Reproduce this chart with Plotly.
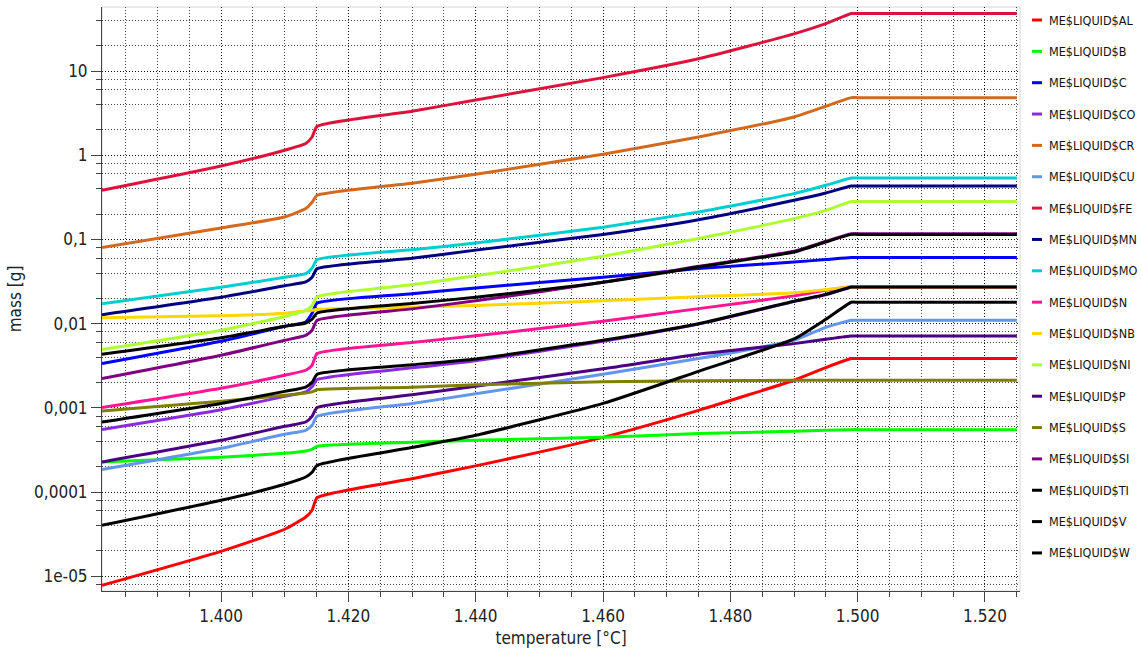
import plotly.graph_objects as go

# ---------------- data ----------------
temperature = [1381.3, 1400, 1410, 1413.3, 1414.3, 1415.1, 1430, 1440, 1460, 1475, 1490, 1495, 1499, 1500, 1525]

species = ["ME$LIQUID$AL", "ME$LIQUID$B", "ME$LIQUID$C", "ME$LIQUID$CO", "ME$LIQUID$CR",
           "ME$LIQUID$CU", "ME$LIQUID$FE", "ME$LIQUID$MN", "ME$LIQUID$MO", "ME$LIQUID$N",
           "ME$LIQUID$NB", "ME$LIQUID$NI", "ME$LIQUID$P", "ME$LIQUID$S", "ME$LIQUID$SI",
           "ME$LIQUID$TI", "ME$LIQUID$V", "ME$LIQUID$W"]

colors = ["#FF0000", "#00FF00", "#0000FF", "#8A2BE2", "#D2691E",
          "#6495ED", "#DC143C", "#000080", "#00CED1", "#FF1493",
          "#FFD700", "#ADFF2F", "#4B0082", "#808000", "#800080",
          "#000000", "#000000", "#000000"]

AL = [7.82e-6, 1.98e-5, 3.62e-5, 5.06e-5, 6.08e-5, 8.60e-5, 1.44e-4, 2.05e-4, 4.47e-4, 9.36e-4, 2.13e-3, 3.01e-3, 3.85e-3, 3.85e-3, 3.85e-3]
B = [0.000228, 0.000259, 0.000289, 0.000308, 0.000322, 0.000350, 0.000390, 0.000412, 0.000447, 0.000495, 0.000527, 0.000542, 0.000552, 0.000552, 0.000552]
C = [0.00336, 0.00618, 0.00931, 0.0105, 0.0133, 0.0176, 0.0227, 0.0266, 0.0356, 0.0451, 0.0540, 0.0577, 0.0610, 0.0610, 0.0610]
CO = [0.000552, 0.000949, 0.00137, 0.00155, 0.00178, 0.00217, 0.00299, 0.00363, 0.00618, 0.00989, 0.0183, 0.0221, 0.0271, 0.0271, 0.0271]
CR = [0.0801, 0.137, 0.185, 0.233, 0.277, 0.335, 0.466, 0.595, 1.03, 1.65, 2.85, 3.82, 4.84, 4.84, 4.84]
CU = [0.000185, 0.000331, 0.000486, 0.000542, 0.000621, 0.000794, 0.00113, 0.00147, 0.00251, 0.00385, 0.00635, 0.00906, 0.0110, 0.0110, 0.0110]
FE = [0.384, 0.746, 1.15, 1.38, 1.65, 2.21, 3.33, 4.54, 8.37, 14.0, 27.7, 36.6, 48.2, 48.2, 48.2]
MN = [0.0128, 0.0206, 0.0282, 0.0313, 0.0356, 0.0451, 0.0598, 0.0748, 0.115, 0.172, 0.292, 0.357, 0.432, 0.432, 0.432]
MO = [0.0173, 0.0271, 0.0356, 0.0394, 0.0455, 0.0577, 0.0755, 0.0908, 0.140, 0.212, 0.351, 0.440, 0.537, 0.537, 0.537]
N = [0.00101, 0.00171, 0.00244, 0.00280, 0.00321, 0.00442, 0.00598, 0.00718, 0.0107, 0.0151, 0.0214, 0.0249, 0.0273, 0.0273, 0.0273]
NB = [0.0118, 0.0124, 0.0133, 0.0142, 0.0144, 0.0148, 0.0157, 0.0165, 0.0187, 0.0209, 0.0233, 0.0254, 0.0273, 0.0273, 0.0273]
NI = [0.00493, 0.00835, 0.0122, 0.0144, 0.0165, 0.0209, 0.0290, 0.0370, 0.0631, 0.103, 0.177, 0.222, 0.282, 0.282, 0.282]
P = [0.000228, 0.000412, 0.000604, 0.000680, 0.000794, 0.00101, 0.00143, 0.00181, 0.00291, 0.00433, 0.00580, 0.00653, 0.00714, 0.00714, 0.00714]
S = [0.000919, 0.00120, 0.00141, 0.00150, 0.00155, 0.00165, 0.00176, 0.00188, 0.00204, 0.00210, 0.00213, 0.00213, 0.00213, 0.00213, 0.00213]
SI = [0.00223, 0.00422, 0.00635, 0.00728, 0.00835, 0.0110, 0.0150, 0.0187, 0.0310, 0.0481, 0.0724, 0.0952, 0.117, 0.117, 0.117]
TI = [0.00433, 0.0068, 0.00931, 0.0102, 0.0113, 0.0134, 0.0174, 0.0206, 0.0310, 0.0471, 0.0710, 0.0934, 0.115, 0.115, 0.115]
V = [0.000680, 0.00113, 0.00157, 0.00177, 0.00201, 0.00251, 0.00325, 0.00381, 0.00635, 0.0100, 0.0185, 0.0223, 0.0273, 0.0273, 0.0273]
W = [0.0000403, 0.0000799, 0.000124, 0.000151, 0.000172, 0.000208, 0.000338, 0.000473, 0.00113, 0.00272, 0.00660, 0.0113, 0.0180, 0.0180, 0.0180]

series = [AL, B, C, CO, CR, CU, FE, MN, MO, N, NB, NI, P, S, SI, TI, V, W]

x_tickvals = [1400, 1420, 1440, 1460, 1480, 1500, 1520]
x_ticktext = ["1.400", "1.420", "1.440", "1.460", "1.480", "1.500", "1.520"]
x_minor = [1385, 1390, 1395, 1405, 1410, 1415, 1425, 1430, 1435, 1445, 1450, 1455,
           1465, 1470, 1475, 1485, 1490, 1495, 1505, 1510, 1515, 1525]
y_tickvals = [1e-5, 1e-4, 1e-3, 1e-2, 1e-1, 1, 10]
y_ticktext = ["1e-05", "0,0001", "0,001", "0,01", "0,1", "1", "10"]
y_minor = [m * 10.0 ** e for e in range(-6, 2) for m in (2, 4, 6, 8)]

# ---------------- figure ----------------
W_PX, H_PX = 1142, 649
L, R, T, BOT = 102, 1020, 7, 591
FONT = "DejaVu Sans Condensed, Liberation Sans, Arial, sans-serif"

fig = go.Figure()
for name, col, vals in zip(species, colors, series):
    fig.add_trace(go.Scatter(x=temperature, y=vals, mode="lines", name=name,
                             line=dict(color=col, width=3, shape="spline", smoothing=0.5),
                             showlegend=False))

grid_dash = "1px,2px"
fig.update_xaxes(
    range=[1381.3, 1525.5], tickmode="array", tickvals=x_tickvals, ticktext=x_ticktext,
    ticks="outside", ticklen=10, tickcolor="#444", tickwidth=1,
    showline=True, linecolor="#444", linewidth=1, zeroline=False,
    showgrid=True, gridcolor="#111", gridwidth=1, griddash=grid_dash,
    minor=dict(tickvals=x_minor, ticks="outside", ticklen=5, tickcolor="#444",
               showgrid=True, gridcolor="#444", gridwidth=1, griddash=grid_dash),
    tickfont=dict(family=FONT, size=17, color="#222"),
    title=dict(text="temperature [°C]", font=dict(family=FONT, size=17, color="#222"), standoff=6),
)
fig.update_yaxes(
    type="log", range=[-5.1746, 1.7613], tickmode="array", tickvals=y_tickvals, ticktext=y_ticktext,
    ticks="outside", ticklen=10, tickcolor="#444", tickwidth=1,
    showline=True, linecolor="#444", linewidth=1, zeroline=False,
    showgrid=True, gridcolor="#111", gridwidth=1, griddash=grid_dash,
    minor=dict(tickvals=y_minor, ticks="outside", ticklen=5, tickcolor="#444",
               showgrid=True, gridcolor="#444", gridwidth=1, griddash=grid_dash),
    tickfont=dict(family=FONT, size=17, color="#222"),
    title=dict(text="mass [g]", font=dict(family=FONT, size=17, color="#222"), standoff=8),
)

# light frame around plot area
shapes = [dict(type="rect", xref="paper", yref="paper", x0=0, x1=1, y0=0, y1=1,
               line=dict(color="#d6d6d6", width=1), layer="below")]
annotations = []

def px_to_paper_x(px):
    return (px - L) / (R - L)

def px_to_paper_y(py):
    return (BOT - py) / (BOT - T)

# manual legend (short line keys like the reference)
for i, (name, col) in enumerate(zip(species, colors)):
    yp = px_to_paper_y(20 + 31.35 * i)
    shapes.append(dict(type="line", xref="paper", yref="paper",
                       x0=px_to_paper_x(1032), x1=px_to_paper_x(1042), y0=yp, y1=yp,
                       line=dict(color=col, width=3)))
    annotations.append(dict(text=name, xref="paper", yref="paper", x=px_to_paper_x(1047), y=yp,
                            xanchor="left", yanchor="middle", showarrow=False,
                            font=dict(family=FONT, size=12.5, color="#111")))

fig.update_layout(
    width=W_PX, height=H_PX,
    margin=dict(l=L, r=W_PX - R, t=T, b=H_PX - BOT, autoexpand=False),
    paper_bgcolor="white", plot_bgcolor="white",
    shapes=shapes, annotations=annotations, showlegend=False,
    font=dict(family=FONT, color="#222"),
)

fig.write_html("out.html")
